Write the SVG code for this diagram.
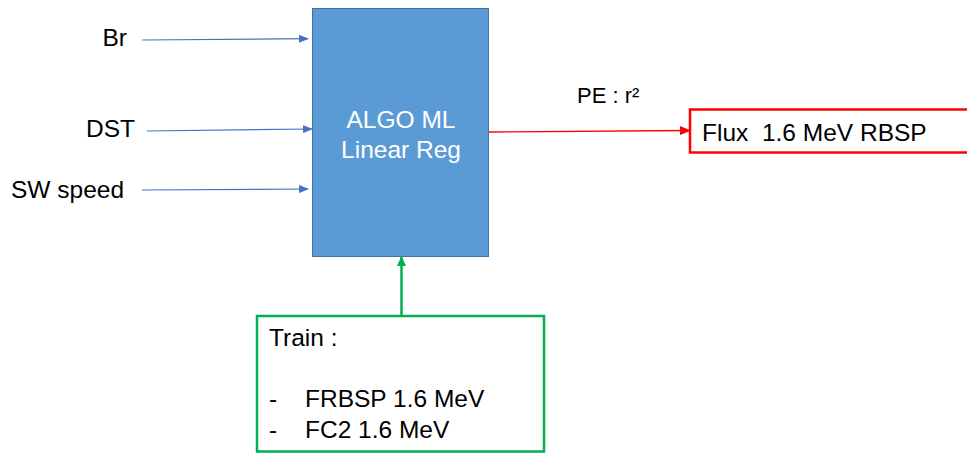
<svg xmlns="http://www.w3.org/2000/svg" width="967" height="453" viewBox="0 0 967 453">
<style>
text{font-family:"Liberation Sans",Arial,sans-serif;font-size:24.5px;fill:#000;white-space:pre}
.w{fill:#fff}
.blue{stroke:#4472C4;stroke-width:1.2;fill:none}
</style>
<defs>
<marker id="ab" markerWidth="10" markerHeight="8" refX="9" refY="4" orient="auto" markerUnits="userSpaceOnUse"><path d="M0,0 L10,4 L0,8 z" fill="#4472C4"/></marker>
<marker id="ar" markerWidth="11" markerHeight="9" refX="10" refY="4.5" orient="auto" markerUnits="userSpaceOnUse"><path d="M0,0 L11,4.5 L0,9 z" fill="#FF0000"/></marker>
<marker id="ag" markerWidth="10" markerHeight="9" refX="9" refY="4.5" orient="auto" markerUnits="userSpaceOnUse"><path d="M0,0 L10,4.5 L0,9 z" fill="#00B050"/></marker>
</defs>
<rect width="967" height="453" fill="#fff"/>
<g id="in-br"><text x="127" y="46" text-anchor="end">Br</text></g>
<g id="in-dst"><text x="135" y="137" text-anchor="end">DST</text></g>
<g id="in-sw"><text x="11" y="198">SW speed</text></g>
<g id="algo">
<rect x="312.5" y="8.5" width="176" height="248" fill="#5B9BD5" stroke="#41719C" stroke-width="1"/>
<text class="w" x="401" y="128" text-anchor="middle">ALGO ML</text>
<text class="w" x="401" y="158" text-anchor="middle">Linear Reg</text>
</g>
<g id="flux">
<rect x="690" y="109.5" width="290" height="43" fill="#fff" stroke="#FF0000" stroke-width="2.5"/>
<text x="702" y="141" xml:space="preserve">Flux  1.6 MeV RBSP</text>
</g>
<g id="train">
<rect x="257" y="316" width="287" height="135.5" fill="#fff" stroke="#00B050" stroke-width="2.5"/>
<text x="269" y="346">Train :</text>
<text x="269" y="407">-</text>
<text x="305" y="407">FRBSP 1.6 MeV</text>
<text x="269" y="438">-</text>
<text x="305" y="438">FC2 1.6 MeV</text>
</g>
<g id="connectors">
<line class="blue" x1="142" y1="40" x2="308" y2="38.7" marker-end="url(#ab)"/>
<line class="blue" x1="147" y1="131" x2="312" y2="129" marker-end="url(#ab)"/>
<line class="blue" x1="142" y1="190" x2="308" y2="189" marker-end="url(#ab)"/>
<line x1="489" y1="132" x2="690" y2="130.5" stroke="#FF0000" stroke-width="1.3" marker-end="url(#ar)"/>
<text x="577" y="103" style="font-size:22px">PE : r²</text>
<line x1="401.5" y1="316" x2="401.5" y2="257" stroke="#00B050" stroke-width="2.5" marker-end="url(#ag)"/>
</g>
</svg>
